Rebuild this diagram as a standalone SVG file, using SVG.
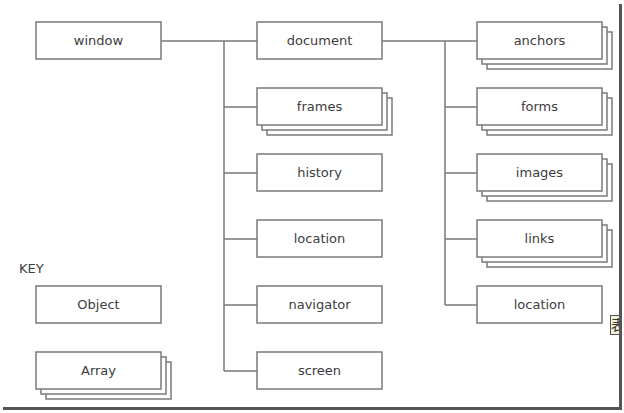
<svg xmlns="http://www.w3.org/2000/svg" width="624" height="413" viewBox="0 0 624 413">
<defs>
<style>
.box{fill:#fff;stroke:#7a7a7a;stroke-width:1.5}
.lbl{font-family:"DejaVu Sans",Verdana,sans-serif;font-size:13px;fill:#3c3c3c;text-anchor:middle;dominant-baseline:central}
.con{fill:none;stroke:#7a7a7a;stroke-width:1.5}
</style>
<g id="stack">
<rect class="box" x="10" y="10" width="125" height="37"/>
<rect class="box" x="5" y="5" width="125" height="37"/>
<rect class="box" x="0" y="0" width="125" height="37"/>
</g>
</defs>
<rect width="624" height="413" fill="#fff"/>
<g id="connectors">
<path class="con" d="M161,41H257M224,41V371M224,107H257M224,173H257M224,239H257M224,305H257M224,371H257"/>
<path class="con" d="M381,41H477M445,41V305M445,107H477M445,173H477M445,239H477M445,305H477"/>
</g>
<g id="window"><rect class="box" x="36" y="22" width="125" height="37"/><text class="lbl" x="98.5" y="40.5">window</text></g>
<g id="document"><rect class="box" x="257" y="22" width="125" height="37"/><text class="lbl" x="319.5" y="40.5">document</text></g>
<g id="frames"><use href="#stack" x="257" y="88"/><text class="lbl" x="319.5" y="106.5">frames</text></g>
<g id="history"><rect class="box" x="257" y="154" width="125" height="37"/><text class="lbl" x="319.5" y="172.5">history</text></g>
<g id="location1"><rect class="box" x="257" y="220" width="125" height="37"/><text class="lbl" x="319.5" y="238.5">location</text></g>
<g id="navigator"><rect class="box" x="257" y="286" width="125" height="37"/><text class="lbl" x="319.5" y="304.5">navigator</text></g>
<g id="screen"><rect class="box" x="257" y="352" width="125" height="37"/><text class="lbl" x="319.5" y="370.5">screen</text></g>
<g id="anchors"><use href="#stack" x="477" y="22"/><text class="lbl" x="539.5" y="40.5">anchors</text></g>
<g id="forms"><use href="#stack" x="477" y="88"/><text class="lbl" x="539.5" y="106.5">forms</text></g>
<g id="images"><use href="#stack" x="477" y="154"/><text class="lbl" x="539.5" y="172.5">images</text></g>
<g id="links"><use href="#stack" x="477" y="220"/><text class="lbl" x="539.5" y="238.5">links</text></g>
<g id="location2"><rect class="box" x="477" y="286" width="125" height="37"/><text class="lbl" x="539.5" y="304.5">location</text></g>
<g id="key">
<text x="19" y="268" style="font-family:'DejaVu Sans',Verdana,sans-serif;font-size:13px;fill:#3c3c3c" dominant-baseline="central">KEY</text>
<g id="object"><rect class="box" x="36" y="286" width="125" height="37"/><text class="lbl" x="98.5" y="304.5">Object</text></g>
<g id="array"><use href="#stack" x="36" y="352"/><text class="lbl" x="98.5" y="370.5">Array</text></g>
</g>
<g id="frame-edge">
<svg x="610" y="315" width="9" height="20" overflow="hidden">
<rect x="0.5" y="0.5" width="12" height="19" fill="#f4f2d8" stroke="#555" stroke-width="1"/>
<text x="1" y="15" style="font-family:'Noto Sans CJK SC',sans-serif;font-size:14px;fill:#333">表</text>
</svg>
<rect x="619" y="4" width="3" height="406" fill="#555"/>
<rect x="3" y="407" width="619" height="3" fill="#555"/>
</g>
</svg>
